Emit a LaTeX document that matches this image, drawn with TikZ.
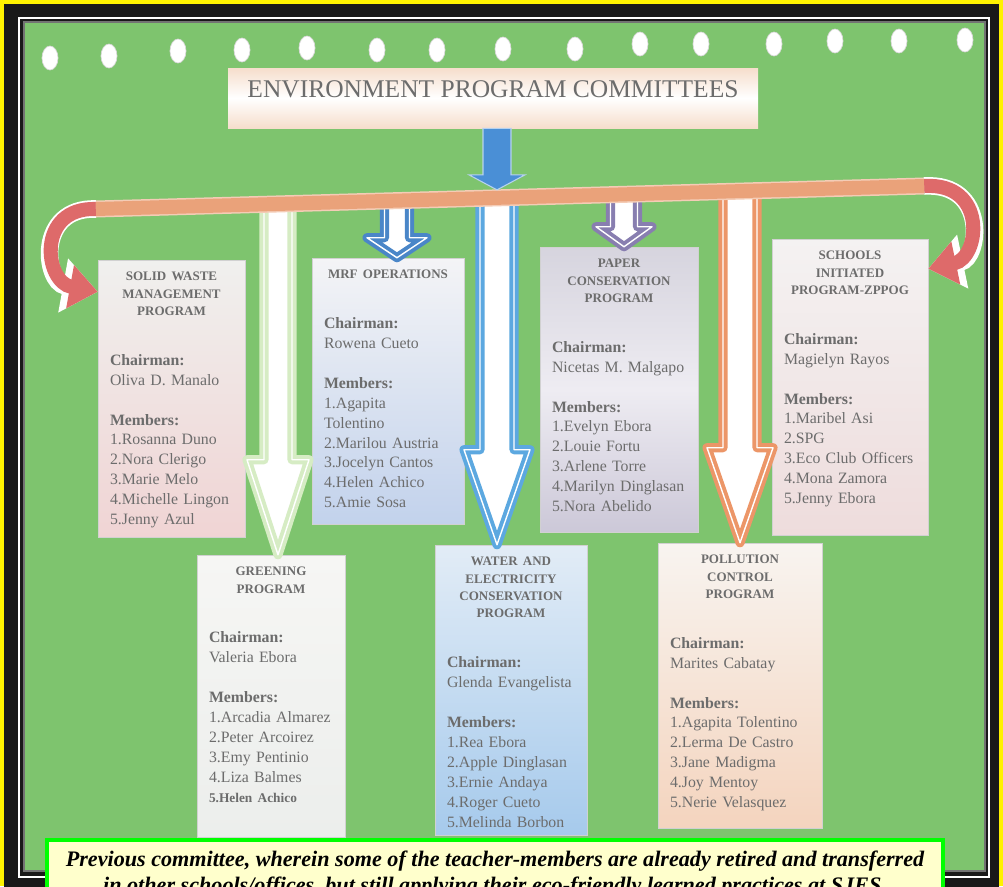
\documentclass[tikz,border=0pt]{standalone}
\usepackage{fontspec}
\setmainfont{Liberation Serif}
\usetikzlibrary{arrows.meta}
\usetikzlibrary{positioning}
\usetikzlibrary{fit}
\usetikzlibrary{calc}
\setlength{\parindent}{0pt}

\definecolor{boardgreen}{RGB}{126,196,110}
\definecolor{bandpeach}{RGB}{234,162,122}
\definecolor{curlred}{RGB}{222,106,106}
\definecolor{inkgray}{RGB}{108,108,108}
\definecolor{capyellow}{RGB}{255,255,204}
\definecolor{capgreen}{RGB}{0,255,0}
\definecolor{edgeblue}{RGB}{74,134,200}
\definecolor{skyblue}{RGB}{92,168,224}
\definecolor{lilac}{RGB}{136,126,176}
\definecolor{peachline}{RGB}{236,150,104}
\definecolor{paleleaf}{RGB}{214,236,196}
\definecolor{arrowblue}{RGB}{74,143,214}
\definecolor{titlepeach}{RGB}{246,222,204}

\newcommand{\blockarrow}[6][]{%
  \draw[#1] ($(#2)+(-#4,0)$) -- ($(#3)+(-#4,-#6)$) -- ($(#3)+(-#5,-#6)$) -- (#3)
    -- ($(#3)+(#5,-#6)$) -- ($(#3)+(#4,-#6)$) -- ($(#2)+(#4,0)$) -- cycle;}
\newcommand{\cardhead}[1]{{\centering\fontsize{7.4}{9.9}\selectfont\bfseries #1\par}\vspace{17pt}}

\tikzset{
  card/.style={draw=black!18, line width=0.3pt, inner sep=0pt},
  cardtext/.style={inner sep=0pt, align=left, text=inkgray, font=\fontsize{9}{11.34}\selectfont},
  titlebox/.style={inner sep=0pt, top color=titlepeach, bottom color=titlepeach, middle color=white, text=inkgray, font=\fontsize{14.5}{16}\selectfont},
  hollow/.style={fill=white, double=white, double distance=0.8pt, line width=2.2pt, line join=round},
  curl/.style={line width=8pt, curlred, -{Triangle[width=24pt,length=16pt]}},
  curledge/.style={line width=10pt, white, -{Triangle[width=30pt,length=20pt]}},
  capbox/.style={inner sep=0pt, draw=capgreen, line width=2.8pt, fill=capyellow},
  captext/.style={inner sep=0pt, align=center, font=\fontsize{12.6}{14.5}\selectfont\bfseries\itshape}
}

\begin{document}
\begin{tikzpicture}[x=0.02cm, y=-0.02cm]
\useasboundingbox (0,0) rectangle (1003,886);
\clip (0,0) rectangle (1003,886);
\fill[yellow] (0,0) rectangle (1003,886);
\fill[black!90] (4,4) rectangle (999,900);
\draw[white, line width=0.9pt] (19,18) rectangle (989,877);
\fill[boardgreen, draw=black!55, line width=0.8pt] (24,22) rectangle (985,871);
\foreach \hx/\hy in {50/58,109/56,178/51,242/50,307/48,377/50,437/50,503/49,575/49,640/44,701/44,774/44,835/41,899/41,965/40}
  \fill[white, draw=black!15] (\hx,\hy) ellipse (8 and 12);

\node[titlebox, fit={(228,68) (758,128)}] (title) {ENVIRONMENT PROGRAM COMMITTEES};

\node[card, top color={rgb,255:red,240;green,240;blue,238}, bottom color={rgb,255:red,240;green,212;blue,212}, fit={(98,260) (245,537)}] (swm) {};
\node[card, top color={rgb,255:red,244;green,244;blue,246}, bottom color={rgb,255:red,194;green,210;blue,236}, fit={(312,258) (464,524)}] (mrf) {};
\node[card, top color={rgb,255:red,214;green,212;blue,222}, bottom color={rgb,255:red,204;green,200;blue,216}, middle color={rgb,255:red,238;green,236;blue,242}, fit={(540,247) (698,532)}] (pap) {};
\node[card, top color={rgb,255:red,244;green,242;blue,242}, bottom color={rgb,255:red,238;green,220;blue,220}, fit={(772,239) (928,535)}] (sch) {};
\node[card, top color={rgb,255:red,246;green,246;blue,244}, bottom color={rgb,255:red,236;green,238;blue,236}, fit={(197,555) (345,837)}] (grn) {};
\node[card, top color={rgb,255:red,226;green,236;blue,246}, bottom color={rgb,255:red,166;green,202;blue,236}, fit={(435,545) (587,835)}] (wat) {};
\node[card, top color={rgb,255:red,248;green,244;blue,240}, bottom color={rgb,255:red,244;green,212;blue,190}, fit={(658,543) (822,828)}] (pol) {};

\node[cardtext, text width=2.46cm, below=0.24cm of swm.north] (swmtext) {\cardhead{SOLID WASTE\\MANAGEMENT\\PROGRAM}
{\bfseries Chairman:}\\ Oliva D. Manalo\\[11.34pt]
{\bfseries Members:}\\ 1.Rosanna Duno\\ 2.Nora Clerigo\\ 3.Marie Melo\\ 4.Michelle~Lingon\\ 5.Jenny Azul};
\node[cardtext, text width=2.56cm, below=0.24cm of mrf.north] (mrftext) {\cardhead{MRF OPERATIONS}
{\bfseries Chairman:}\\ Rowena Cueto\\[11.34pt]
{\bfseries Members:}\\ 1.Agapita\\ Tolentino\\ 2.Marilou~Austria\\ 3.Jocelyn Cantos\\ 4.Helen Achico\\ 5.Amie Sosa};
\node[cardtext, text width=2.68cm, below=0.24cm of pap.north] (paptext) {\cardhead{PAPER\\CONSERVATION\\PROGRAM}
{\bfseries Chairman:}\\ Nicetas~M.~Malgapo\\[11.34pt]
{\bfseries Members:}\\ 1.Evelyn Ebora\\ 2.Louie Fortu\\ 3.Arlene Torre\\ 4.Marilyn~Dinglasan\\ 5.Nora Abelido};
\node[cardtext, text width=2.64cm, below=0.24cm of sch.north] (schtext) {\cardhead{SCHOOLS\\INITIATED\\PROGRAM-ZPPOG}
{\bfseries Chairman:}\\ Magielyn Rayos\\[11.34pt]
{\bfseries Members:}\\ 1.Maribel Asi\\ 2.SPG\\ 3.Eco~Club~Officers\\ 4.Mona Zamora\\ 5.Jenny Ebora};
\node[cardtext, text width=2.48cm, below=0.24cm of grn.north] (grntext) {\cardhead{GREENING\\PROGRAM}
{\bfseries Chairman:}\\ Valeria Ebora\\[11.34pt]
{\bfseries Members:}\\ 1.Arcadia~Almarez\\ 2.Peter Arcoirez\\ 3.Emy Pentinio\\ 4.Liza Balmes\\ {\bfseries\fontsize{7.6}{11.34}\selectfont 5.Helen Achico}};
\node[cardtext, text width=2.56cm, below=0.24cm of wat.north] (wattext) {\cardhead{WATER AND\\ELECTRICITY\\CONSERVATION\\PROGRAM}
{\bfseries Chairman:}\\ Glenda~Evangelista\\[11.34pt]
{\bfseries Members:}\\ 1.Rea Ebora\\ 2.Apple~Dinglasan\\ 3.Ernie Andaya\\ 4.Roger Cueto\\ 5.Melinda~Borbon};
\node[cardtext, text width=2.8cm, below=0.24cm of pol.north] (poltext) {\cardhead{POLLUTION\\CONTROL\\PROGRAM}
{\bfseries Chairman:}\\ Marites Cabatay\\[11.34pt]
{\bfseries Members:}\\ 1.Agapita~Tolentino\\ 2.Lerma De Castro\\ 3.Jane Madigma\\ 4.Joy Mentoy\\ 5.Nerie~Velasquez};

\coordinate (barL) at (96,209);
\coordinate (barR) at (924,186);
\path (barL) -- (barR) coordinate[pos=0.2198] (grnfoot) coordinate[pos=0.3635] (mrffoot)
  coordinate[pos=0.4843] (watfoot) coordinate[pos=0.6377] (papfoot) coordinate[pos=0.7778] (polfoot);
\coordinate (grntip) at (grnfoot |- grn.north);
\coordinate (mrftip) at (mrffoot |- mrf.north);
\coordinate (wattip) at (watfoot |- wat.north);
\coordinate (paptip) at (papfoot |- pap.north);
\coordinate (poltip) at (polfoot |- pol.north);
\blockarrow[hollow, draw=paleleaf]{grnfoot}{grntip}{14}{31}{95}
\blockarrow[hollow, draw=edgeblue]{mrffoot}{mrftip}{12.5}{30}{20}
\blockarrow[hollow, draw=skyblue]{watfoot}{wattip}{17}{33}{95}
\blockarrow[hollow, draw=lilac]{papfoot}{paptip}{13.5}{28}{20}
\blockarrow[hollow, draw=peachline]{polfoot}{poltip}{17}{33}{95}

\coordinate (swmhook) at ($(swm.north west)+(0,32)$);
\coordinate (schhook) at ($(sch.north east)+(0,30)$);
\draw[curledge] (barL) .. controls (36,207) and (44,282) .. (swmhook);
\draw[curl] (barL) .. controls (36,207) and (44,282) .. (swmhook);
\draw[curledge] (barR) .. controls (988,182) and (980,258) .. (schhook);
\draw[curl] (barR) .. controls (988,182) and (980,258) .. (schhook);

\draw[bandpeach!55!white, line width=0.34cm] (barL) -- (barR);
\draw[bandpeach, line width=0.28cm] (barL) -- (barR);

\coordinate (toptail) at (watfoot |- title.south);
\coordinate (toptip) at ($(watfoot)+(0,-8)$);
\blockarrow[fill=arrowblue, draw=arrowblue!40!white, line width=0.6pt]{toptail}{toptip}{14}{28}{15}

\node[capbox, fit={(47,840) (943,905)}] (capframe) {};
\node[captext, below=0.27cm of capframe.north] (caption) {Previous committee, wherein some of the teacher-members are already retired and transferred\\ in other schools/offices, but still applying their eco-friendly learned practices at SJES.};
\end{tikzpicture}
\end{document}
